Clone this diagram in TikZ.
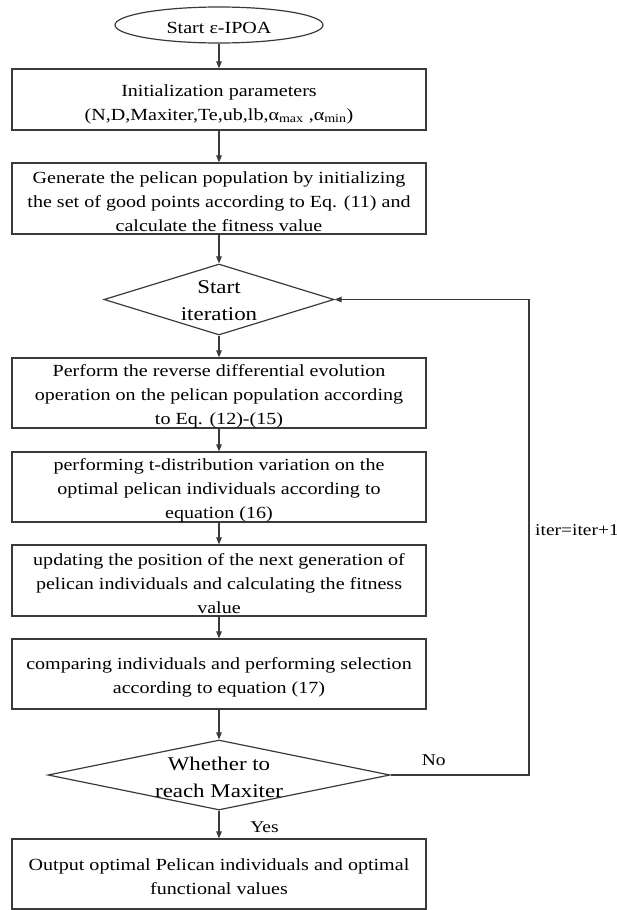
\documentclass[tikz,border=0pt]{standalone}
\usepackage{fontspec}
\setmainfont{Liberation Serif}[FakeStretch=1.18]
\usetikzlibrary{shapes.geometric,arrows.meta}
\definecolor{linec}{HTML}{3A3A3A}
\begin{document}
\begin{tikzpicture}[x=1pt,y=1pt,
  shapeline/.style={draw=linec, line width=1.2pt, inner sep=0pt},
  box/.style={shapeline, rectangle, minimum width=414pt},
  dia/.style={shapeline, diamond},
  txt/.style={align=center, inner sep=0pt, font=\fontsize{17}{24}\selectfont},
  dtxt/.style={align=center, inner sep=0pt, font=\fontsize{19.4}{27}\selectfont},
  lbl/.style={inner sep=0pt, font=\fontsize{16.5}{20}\selectfont},
  arr/.style={draw=linec, line width=1.2pt, -{Triangle[length=7pt,width=5.5pt]}},
]
\useasboundingbox (0,0) rectangle (617,-910);
% shapes
\node[shapeline, ellipse, minimum width=208pt, minimum height=36pt] (s) at (219,-25) {};
\node[box, minimum height=61pt] (b1) at (219,-99.5) {};
\node[box, minimum height=71pt] (b2) at (219,-198.5) {};
\node[dia, minimum width=230pt, minimum height=71pt] (d1) at (219,-299.5) {};
\node[box, minimum height=70pt] (b3) at (219,-393) {};
\node[box, minimum height=70pt] (b4) at (219,-487) {};
\node[box, minimum height=71pt] (b5) at (219,-580.5) {};
\node[box, minimum height=70pt] (b6) at (219,-674) {};
\node[dia, minimum width=342pt, minimum height=70pt] (d2) at (219,-775) {};
\node[box, minimum height=70pt] (b7) at (219,-874) {};
% texts
\node[txt] (ts) at (219,-27.5) {Start ε-IPOA};
\node[txt] (t1) at (219,-104) {Initialization parameters\\(N,D,Maxiter,Te,ub,lb,α\textsubscript{max} ,α\textsubscript{min})};
\node[txt] (t2) at (219,-201.5) {Generate the pelican population by initializing\\the set of good points according to Eq. (11) and\\calculate the fitness value};
\node[dtxt] (td1) at (219,-300.3) {Start\\iteration};
\node[txt] (t3) at (219,-396.5) {Perform the reverse differential evolution\\operation on the pelican population according\\to Eq. (12)-(15)};
\node[txt] (t4) at (219,-490.2) {performing t-distribution variation on the\\optimal pelican individuals according to\\equation (16)};
\node[txt] (t5) at (219,-584) {updating the position of the next generation of\\pelican individuals and calculating the fitness\\value};
\node[txt] (t6) at (219,-677.5) {comparing individuals and performing selection\\according to equation (17)};
\node[dtxt] (td2) at (219,-777.3) {Whether to\\reach Maxiter};
\node[txt] (t7) at (219,-876.6) {Output optimal Pelican individuals and optimal\\functional values};
% labels
\node[lbl, anchor=base] (no) at (433.7,-765) {No};
\node[lbl, anchor=base] (yes) at (264.5,-832.7) {Yes};
\node[lbl, anchor=base west] (it) at (535,-535) {iter=iter+1};
% connectors
\coordinate (lp) at (529,0);
\draw[arr] (s) -- (b1);
\draw[arr] (b1) -- (b2);
\draw[arr] (b2) -- (d1);
\draw[arr] (d1) -- (b3);
\draw[arr] (b3) -- (b4);
\draw[arr] (b4) -- (b5);
\draw[arr] (b5) -- (b6);
\draw[arr] (b6) -- (d2);
\draw[arr] (d2) -- (b7);
\draw[arr] (d2.east) -- (d2.east -| lp) -- (d1.east -| lp) -- (d1.east);
\end{tikzpicture}
\end{document}
